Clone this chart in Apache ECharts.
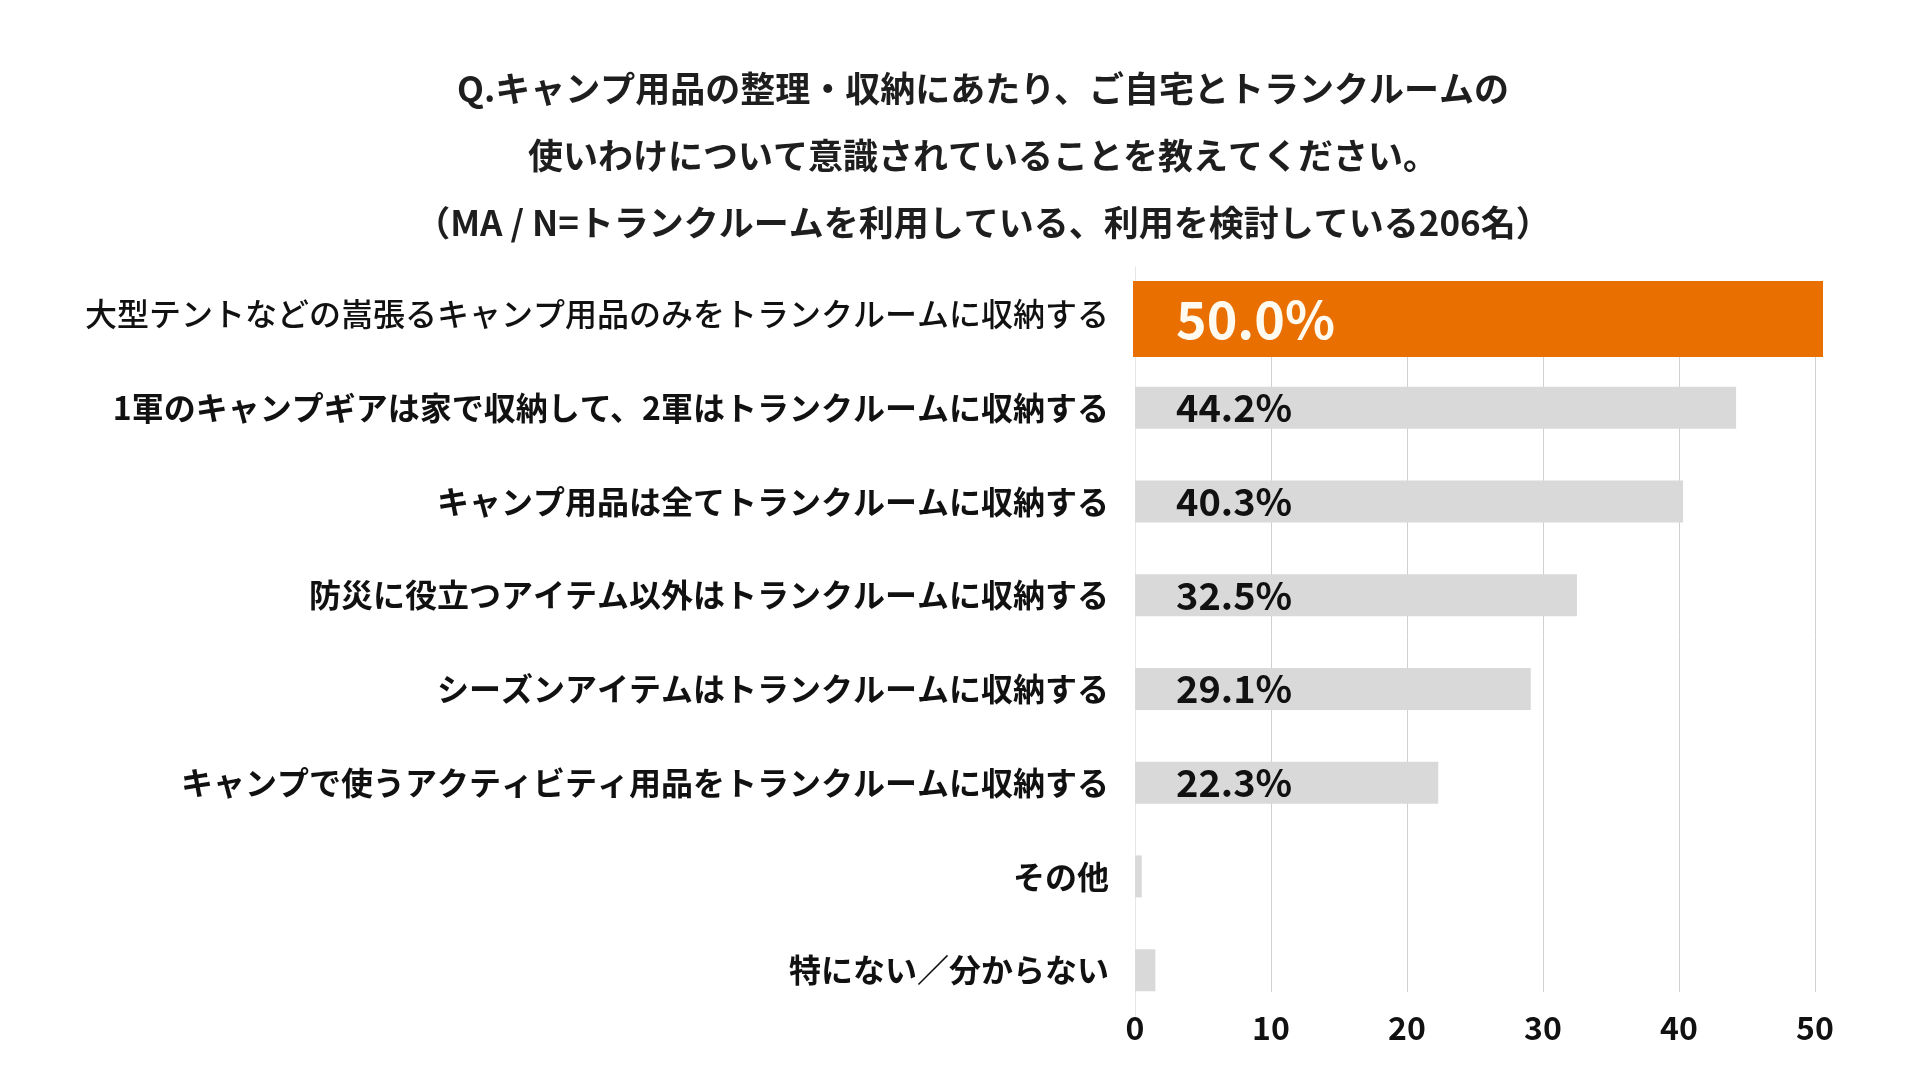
<!DOCTYPE html>
<html>
<head>
<meta charset="utf-8">
<title>トランクルームの使いわけ</title>
<script src="https://cdn.jsdelivr.net/npm/echarts@6/dist/echarts.min.js"></script>
<style>
  html, body { margin: 0; padding: 0; background: #fff; }
  #chart { width: 1920px; height: 1080px; }
</style>
</head>
<body>
<div id="chart"></div>
<script>
// 設問
const titleLines = [
  'Q.キャンプ用品の整理・収納にあたり、ご自宅とトランクルームの',
  '使いわけについて意識されていることを教えてください。',
  '（MA / N=トランクルームを利用している、利用を検討している206名）'
]

// 選択肢（上から順）
const categories = [
  '大型テントなどの嵩張るキャンプ用品のみをトランクルームに収納する',
  '1軍のキャンプギアは家で収納して、2軍はトランクルームに収納する',
  'キャンプ用品は全てトランクルームに収納する',
  '防災に役立つアイテム以外はトランクルームに収納する',
  'シーズンアイテムはトランクルームに収納する',
  'キャンプで使うアクティビティ用品をトランクルームに収納する',
  'その他',
  '特にない／分からない'
]

// 回答率 (%)
const values = [50.0, 44.2, 40.3, 32.5, 29.1, 22.3, 0.5, 1.5]

// 強調する項目
const highlightIndex = 0

const xTicks = [0, 10, 20, 30, 40, 50]

const font = '"Noto Sans CJK JP", "Noto Sans", sans-serif'

const topData = values.map((v, i) => (i === highlightIndex ? v : '-'))
const restData = values.map((v, i) => (i === highlightIndex ? '-' : v))

var myChart = echarts.init(document.getElementById('chart'))

var option = {
  backgroundColor: '#ffffff',
  animation: false,
  title: {
    text: titleLines.join('\n'),
    left: 978,
    top: 50,
    textAlign: 'center',
    textStyle: {
      fontFamily: font,
      fontSize: 35,
      fontWeight: 'bold',
      color: '#1e1e1e',
      lineHeight: 67
    }
  },
  grid: [
    // バー用
    { left: 1135, right: 105, top: 267, bottom: 63 },
    // 目盛線用
    { left: 1135, right: 105, top: 281, bottom: 88 },
    // 強調バー用
    { left: 1133, right: 97, top: 272, bottom: 58 }
  ],
  xAxis: [
    {
      type: 'value', gridIndex: 0, min: 0, max: 50, interval: 10,
      show: false
    },
    {
      type: 'value', gridIndex: 1, min: xTicks[0], max: xTicks[xTicks.length - 1], interval: 10,
      axisLine: { show: false },
      axisTick: { show: false },
      splitLine: { show: true, showMinLine: false, lineStyle: { color: '#d0d0d0', width: 1 } },
      axisLabel: {
        margin: 20,
        fontFamily: font,
        fontSize: 32,
        fontWeight: 'bold',
        color: '#111'
      }
    },
    {
      type: 'value', gridIndex: 2, min: 0, max: 50, interval: 10,
      show: false
    }
  ],
  yAxis: [
    {
      type: 'category', gridIndex: 0, inverse: true, data: categories,
      axisLine: { show: true, lineStyle: { color: '#e6e6e6' } },
      axisTick: { show: false },
      axisLabel: {
        margin: 26,
        fontFamily: font,
        fontSize: 32,
        fontWeight: 'bold',
        color: '#111',
        formatter: (v, i) => (i === highlightIndex ? '{hl|' + v + '}' : v),
        rich: {
          hl: { fontFamily: font, fontSize: 32, fontWeight: 500, color: '#111' }
        }
      }
    },
    {
      type: 'category', gridIndex: 2, inverse: true, data: categories,
      show: false
    },
    {
      type: 'category', gridIndex: 1, data: categories, show: false
    }
  ],
  series: [
    {
      name: 'highlight',
      type: 'bar',
      xAxisIndex: 2,
      yAxisIndex: 1,
      data: topData,
      barWidth: 76,
      itemStyle: { color: '#e97000' },
      label: {
        show: true,
        position: 'insideLeft',
        distance: 43,
        formatter: p => p.value.toFixed(1) + '%',
        fontFamily: font,
        fontSize: 52,
        fontWeight: 'bold',
        color: '#fffaf0'
      }
    },
    {
      name: 'rest',
      type: 'bar',
      xAxisIndex: 0,
      yAxisIndex: 0,
      data: restData,
      barWidth: 42,
      itemStyle: { color: '#d9d9d9' },
      label: {
        show: true,
        position: 'insideLeft',
        distance: 41,
        formatter: p => (p.value >= 10 ? p.value.toFixed(1) + '%' : ''),
        fontFamily: font,
        fontSize: 38,
        fontWeight: 'bold',
        color: '#111'
      }
    }
  ]
}

myChart.setOption(option)
</script>
</body>
</html>
